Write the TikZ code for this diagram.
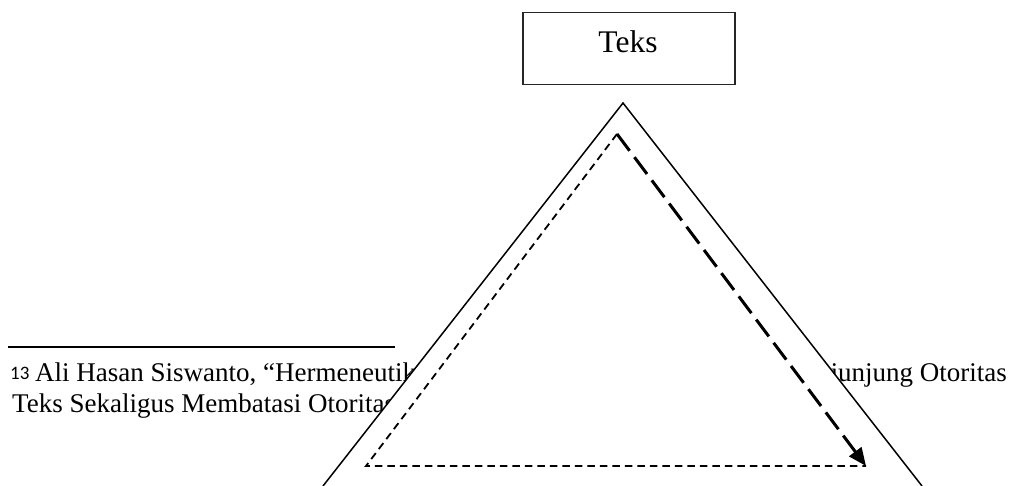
\documentclass[tikz,border=0pt]{standalone}
\usepackage{fontspec}
\setmainfont{Liberation Serif}
\newfontfamily\supfont{Carlito}
\usetikzlibrary{arrows.meta}
\tikzset{
  fnote/.style={inner sep=0pt, font=\fontsize{27}{32}\selectfont},
  boxstyle/.style={draw=black!85, line width=1.8pt, inner sep=0pt, fill=white},
  outertri/.style={draw=black, line width=1.5pt, fill=white, line join=miter},
  thindash/.style={draw=black, line width=1.8pt, dash pattern=on 7.5pt off 5pt},
  bolddash/.style={draw=black, line width=3pt, dash pattern=on 21pt off 8pt,
    -{Triangle[length=18pt,width=15pt]}},
  rulestyle/.style={draw=black, line width=2pt}
}
\begin{document}
\begin{tikzpicture}[x=1pt,y=1pt]
\useasboundingbox (0,0) rectangle (1012,486);
% footnote rule and text
\coordinate (r1) at (8,139);
\coordinate (r2) at (395,139);
\draw[rulestyle] (r1) -- (r2);
\node[inner sep=0pt, anchor=base west, font=\supfont\fontsize{19}{21}\selectfont] (fnum) at (10,106) {13};
\node[fnote, anchor=base west] (fn1) at (35,104) {Ali Hasan Siswanto, “Hermeneutik};
\node[fnote, anchor=base east] (fn1r) at (1007,104) {junjung Otoritas};
\node[fnote, anchor=base west] (fn2) at (12,73) {Teks Sekaligus Membatasi Otoritas};
% outer triangle
\coordinate (tl) at (323,0);
\coordinate (tt) at (623,383);
\coordinate (tr) at (922,0);
\path[outertri] (tl) -- (tt) -- (tr);
% inner dashed triangle
\coordinate (it) at (617,352);
\coordinate (il) at (366,20);
\coordinate (ir) at (866,20);
\draw[thindash] (it) -- (il) -- (ir);
\draw[bolddash] (it) -- (ir);
% box
\node[boxstyle, minimum width=212pt, minimum height=72pt] (box) at (629,437.5) {};
\node[inner sep=0pt, anchor=base, font=\fontsize{31.5}{36}\selectfont] (teks) at (628,433) {Teks};
\end{tikzpicture}
\end{document}
